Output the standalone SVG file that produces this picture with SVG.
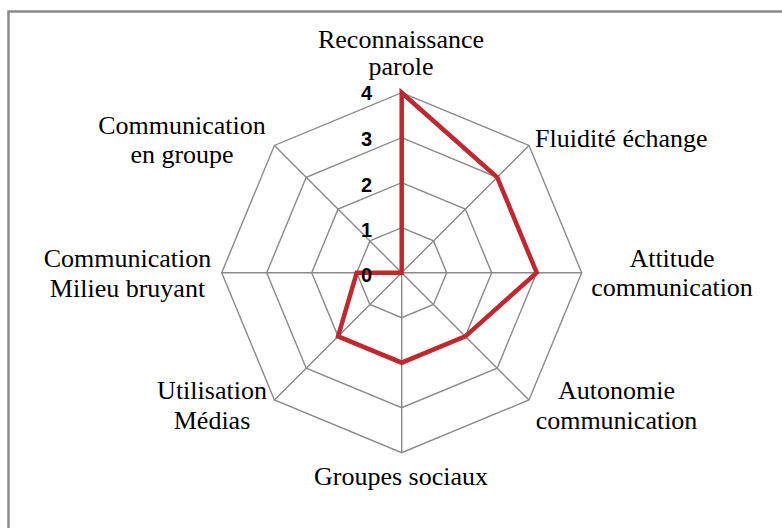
<svg xmlns="http://www.w3.org/2000/svg" width="782" height="528" viewBox="0 0 782 528">
<style>
.grid{fill:none;stroke:#8a8a8a;stroke-width:1.4}
.lbl{font-family:"Liberation Serif","Times New Roman",serif;font-size:26px;fill:#000;text-anchor:middle}
.tick{font-family:"Liberation Sans",Arial,sans-serif;font-size:20px;font-weight:bold;fill:#000;text-anchor:middle}
.series{fill:none;stroke:#C1272D;stroke-width:4.5;stroke-linejoin:miter}
</style>
<rect x="0" y="0" width="782" height="528" fill="#fff"/>
<rect x="8.5" y="11.5" width="800" height="600" fill="#fff" stroke="#8a8a8a" stroke-width="2.5"/>
<g id="grid">
<polygon class="grid" points="401.7,92.7 528.98,145.42 581.7,272.7 528.98,399.98 401.7,452.7 274.42,399.98 221.7,272.7 274.42,145.42"/>
<polygon class="grid" points="401.7,137.7 497.16,177.24 536.7,272.7 497.16,368.16 401.7,407.7 306.24,368.16 266.7,272.7 306.24,177.24"/>
<polygon class="grid" points="401.7,182.7 465.34,209.06 491.7,272.7 465.34,336.34 401.7,362.7 338.06,336.34 311.7,272.7 338.06,209.06"/>
<polygon class="grid" points="401.7,227.7 433.52,240.88 446.7,272.7 433.52,304.52 401.7,317.7 369.88,304.52 356.7,272.7 369.88,240.88"/>
</g>
<g id="connectors">
<path class="grid" d="M401.7,272.7L401.7,92.7M401.7,272.7L528.98,145.42M401.7,272.7L581.7,272.7M401.7,272.7L528.98,399.98M401.7,272.7L401.7,452.7M401.7,272.7L274.42,399.98M401.7,272.7L221.7,272.7M401.7,272.7L274.42,145.42"/>
</g>
<g id="series">
<polygon class="series" points="401.7,92.7 497.16,177.24 536.7,272.7 465.34,336.34 401.7,362.7 338.06,336.34 356.7,272.7 401.7,272.7"/>
</g>
<g id="ticks">
<text class="tick" x="366.5" y="100">4</text>
<text class="tick" x="366.5" y="146">3</text>
<text class="tick" x="366.5" y="191.5">2</text>
<text class="tick" x="366.5" y="237">1</text>
<text class="tick" x="366.5" y="282">0</text>
</g>
<g id="node-reconnaissance"><text class="lbl" x="401" y="48">Reconnaissance</text><text class="lbl" x="401" y="75">parole</text></g>
<g id="node-fluidite"><text class="lbl" x="535" y="146.7" style="text-anchor:start">Fluidité échange</text></g>
<g id="node-attitude"><text class="lbl" x="672" y="266.7">Attitude</text><text class="lbl" x="672" y="296">communication</text></g>
<g id="node-autonomie"><text class="lbl" x="616.5" y="399.3">Autonomie</text><text class="lbl" x="616.5" y="429">communication</text></g>
<g id="node-groupes"><text class="lbl" x="401" y="485">Groupes sociaux</text></g>
<g id="node-medias"><text class="lbl" x="212" y="399.3">Utilisation</text><text class="lbl" x="212" y="429">Médias</text></g>
<g id="node-bruyant"><text class="lbl" x="127.5" y="266.7">Communication</text><text class="lbl" x="127.5" y="296.7">Milieu bruyant</text></g>
<g id="node-groupe"><text class="lbl" x="182" y="134.3">Communication</text><text class="lbl" x="182" y="163.3">en groupe</text></g>
</svg>
